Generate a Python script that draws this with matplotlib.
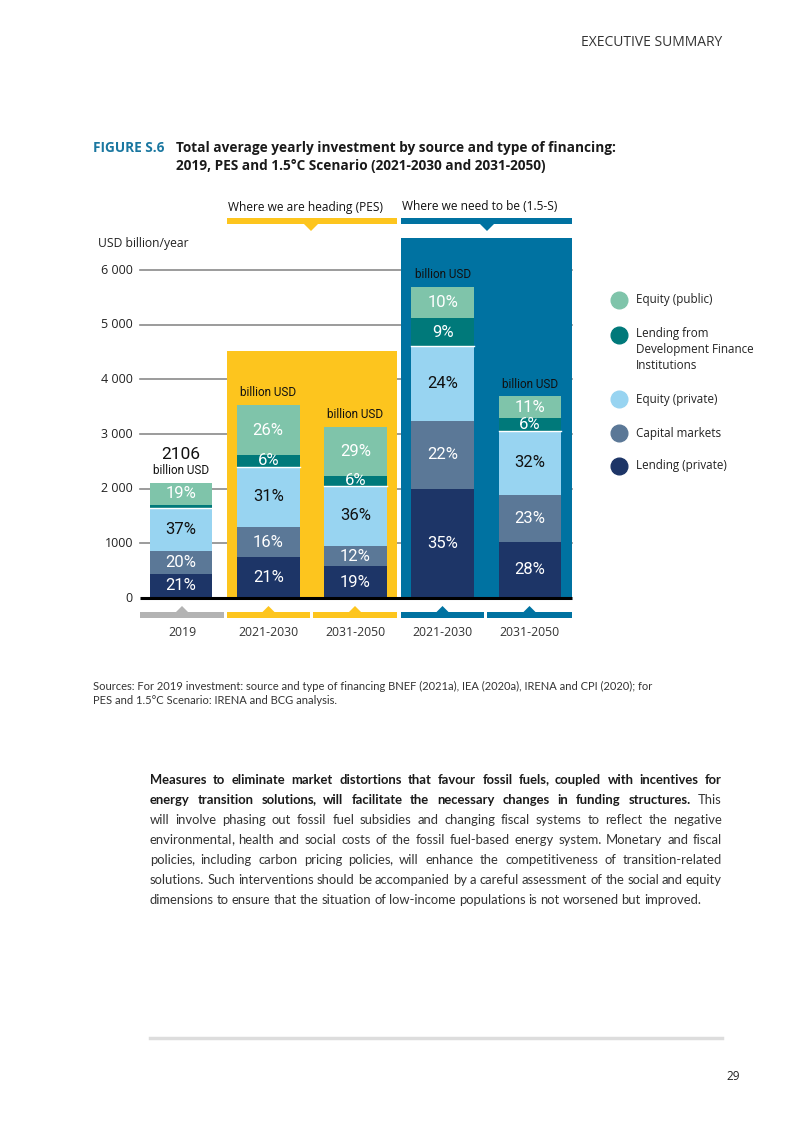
import numpy as np
import matplotlib.pyplot as plt
from matplotlib.patches import Rectangle, Polygon

W, H = 803, 1134

# ---- data ----
periods = ["2019", "2021-2030", "2031-2050", "2021-2030", "2031-2050"]
totals = [2106, 3530, 3130, 5690, 3690]
lending_private = [21, 21, 19, 35, 28]
capital_markets = [20, 16, 12, 22, 23]
equity_private = [37, 31, 36, 24, 32]
lending_dfi = [3, 6, 6, 9, 6]
equity_public = [19, 26, 29, 10, 11]
show_pct = [[1, 1, 1, 0, 1], [1, 1, 1, 1, 1], [1, 1, 1, 1, 1], [1, 1, 1, 1, 1], [1, 1, 1, 1, 1]]

source_names = ["Equity (public)", "Lending from\nDevelopment Finance\nInstitutions",
                "Equity (private)", "Capital markets", "Lending (private)"]
yticks = [0, 1000, 2000, 3000, 4000, 5000, 6000]
ytick_labels = ["0", "1000", "2 000", "3 000", "4 000", "5 000", "6 000"]

c_eq_pub = "#7fc4aa"
c_dfi = "#00797a"
c_eq_priv = "#98d4f1"
c_cap = "#5b7897"
c_lend = "#1d3567"
c_yellow = "#fdc51e"
c_blue = "#0072a1"
c_grey = "#b3b3b3"

seg_colors = [c_lend, c_cap, c_eq_priv, c_dfi, c_eq_pub]
txt_colors = ["white", "white", "#111111", "white", "white"]

FONT = ["Open Sans", "DejaVu Sans"]
NARROW = ["Roboto", "DejaVu Sans"]
BODY = "Lato"
plt.rcParams['font.family'] = FONT

fig = plt.figure(figsize=(W / 100, H / 100), dpi=100)
fig.patch.set_facecolor("white")


def fp(x, y):
    return x / W, 1 - y / H


def ftext(x, y, s, **kw):
    fx, fy = fp(x, y)
    return fig.text(fx, fy, s, **kw)


# axes placed so data maps onto the page pixels
PX0, PY0 = 181.0, 598.0
SX, SY = 87.25, 328.0 / 6000
ax_l, ax_r, ax_t, ax_b = 90, 780, 200, 650
ax = fig.add_axes([ax_l / W, 1 - ax_b / H, (ax_r - ax_l) / W, (ax_b - ax_t) / H])
ax.set_xlim((ax_l - PX0) / SX, (ax_r - PX0) / SX)
ax.set_ylim((PY0 - ax_b) / SY, (PY0 - ax_t) / SY)
ax.axis("off")


def dx(px):
    return (px - PX0) / SX


def dy(py):
    return (PY0 - py) / SY


# grid lines
for t, lab in zip(yticks, ytick_labels):
    if t > 0:
        ax.plot([dx(140), dx(572)], [t, t], color="#8a8a8a", lw=1.2, zorder=1)
    ax.text(dx(133), t, lab, ha="right", va="center", fontsize=9, color="#222222")
ax.text(dx(98), dy(243), "USD billion/year", ha="left", va="center", fontsize=8.7, color="#222222")

# scenario panels
ax.add_patch(Rectangle((dx(227), 0), dx(397) - dx(227), 4520, color=c_yellow, zorder=2, lw=0))
ax.add_patch(Rectangle((dx(401), 0), dx(572) - dx(401), 6580, color=c_blue, zorder=2, lw=0))

# stacked bars
shares = np.array([lending_private, capital_markets, equity_private, lending_dfi, equity_public], float)
x = np.arange(len(periods))
bottom = np.zeros(len(periods))
for k in range(5):
    h = shares[k] / shares.sum(axis=0) * np.array(totals)
    ax.bar(x, h, bottom=bottom, width=0.722, color=seg_colors[k], zorder=3, linewidth=0)
    if k == 3:
        for i in range(len(periods)):
            ax.plot([x[i] - 0.361, x[i] + 0.361], [bottom[i], bottom[i]], color="white", lw=1, zorder=4)
    for i in range(len(periods)):
        if show_pct[i][k]:
            ax.text(x[i], bottom[i] + h[i] / 2, f"{int(shares[k][i])}%", ha="center", va="center",
                    fontsize=12, color=txt_colors[k], family=NARROW, fontstretch="condensed",
                    zorder=5)
    bottom += h

for i in range(len(periods)):
    ax.text(x[i], totals[i] + 220, "billion USD", ha="center", va="center", fontsize=8.5,
            family=NARROW, fontstretch="condensed", color="#111111", zorder=5)
ax.text(x[0], totals[0] + 510, f"{totals[0]}", ha="center", va="center", fontsize=12.5,
        family=NARROW, fontstretch="condensed", color="#111111", zorder=5)

ax.plot([dx(140), dx(572)], [0, 0], color="black", lw=2.2, zorder=6, solid_capstyle="butt")

# bottom category bands
bands = [(140, 224, c_grey), (227, 310, c_yellow), (313, 397, c_yellow),
         (401, 484, c_blue), (487, 572, c_blue)]
for i, (a, b, c) in enumerate(bands):
    ax.add_patch(Rectangle((dx(a), dy(618)), dx(b) - dx(a), dy(612) - dy(618), color=c, lw=0))
    cx = (a + b) / 2
    ax.add_patch(Polygon([(dx(cx - 6), dy(612)), (dx(cx), dy(606)), (dx(cx + 6), dy(612))],
                         color=c, lw=0))
    ax.text(dx(cx), dy(633), periods[i], ha="center", va="center", fontsize=8.8, color="#333333")

# top scenario headers
tops = [(227, 397, 311, c_yellow, "Where we are heading (PES)"),
        (401, 572, 487, c_blue, "Where we need to be (1.5-S)")]
for a, b, cx, c, s in tops:
    ax.add_patch(Rectangle((dx(a), dy(224)), dx(b) - dx(a), dy(218) - dy(224), color=c, lw=0))
    ax.add_patch(Polygon([(dx(cx - 7), dy(224)), (dx(cx), dy(231)), (dx(cx + 7), dy(224))],
                         color=c, lw=0))
    ax.text(dx(a + 1), dy(207), s, ha="left", va="center", fontsize=8.6, color="#111111")

# legend
leg_colors = [c_eq_pub, c_dfi, c_eq_priv, c_cap, c_lend]
leg_y = [300, 335, 399, 433, 466]
for c, yy, name in zip(leg_colors, leg_y, source_names):
    ax.plot([dx(619)], [dy(yy)], marker="o", ms=12, color=c, clip_on=False)
    ax.text(dx(636), dy(yy - 7.5) if "\n" in name else dy(yy), name, ha="left",
            va="top" if "\n" in name else "center",
            fontsize=8.4, color="#222222", linespacing=1.28)

# ---- page texts ----
ftext(722, 42, "EXECUTIVE SUMMARY", ha="right", va="center", fontsize=10, color="#333333")
ftext(93, 148, "FIGURE S.6", ha="left", va="center", fontsize=9.8, fontweight="bold", color="#1a77a0")
ftext(176, 148, "Total average yearly investment by source and type of financing:",
      ha="left", va="center", fontsize=9.8, fontweight="bold", color="#1a1a1a")
ftext(176, 166, "2019, PES and 1.5°C Scenario (2021-2030 and 2031-2050)",
      ha="left", va="center", fontsize=9.8, fontweight="bold", color="#1a1a1a")
ftext(93, 686, "Sources: For 2019 investment: source and type of financing BNEF (2021a), IEA (2020a), "
      "IRENA and CPI (2020); for", ha="left", va="center", fontsize=8, family=BODY, color="#333333")
ftext(93, 700, "PES and 1.5°C Scenario: IRENA and BCG analysis.", ha="left", va="center",
      fontsize=8, family=BODY, color="#333333")

body = [
    [("Measures to eliminate market distortions that favour fossil fuels, coupled with incentives for", True)],
    [("energy transition solutions, will facilitate the necessary changes in funding structures.", True),
     ("This", False)],
    [("will involve phasing out fossil fuel subsidies and changing fiscal systems to reflect the negative", False)],
    [("environmental, health and social costs of the fossil fuel-based energy system. Monetary and fiscal", False)],
    [("policies, including carbon pricing policies, will enhance the competitiveness of transition-related", False)],
    [("solutions. Such interventions should be accompanied by a careful assessment of the social and equity", False)],
    [("dimensions to ensure that the situation of low-income populations is not worsened but improved.", False)],
]

# justified paragraph: place word by word (commas drawn separately so the
# baseline of the word is not disturbed)
renderer = fig.canvas.get_renderer()
x0, x1 = 150, 722
COMMA_SHIFT = -1.5
for li, line in enumerate(body):
    yy = 784 + 20 * li
    words = []
    for chunk, bold in line:
        for w in chunk.split(" "):
            kw = dict(ha="left", va="baseline", fontsize=9.4, family=BODY,
                      fontweight="bold" if bold else "normal",
                      color="#1a1a1a" if bold else "#333333")
            if w.endswith(","):
                parts = [ftext(0, yy, w[:-1], **kw), ftext(0, yy, ",", **kw)]
            else:
                parts = [ftext(0, yy, w, **kw)]
            words.append(parts)
    widths = [[p.get_window_extent(renderer).width for p in parts] for parts in words]
    total = sum(sum(ws) + COMMA_SHIFT * (len(ws) - 1) for ws in widths)
    if li < len(body) - 1:
        gap = (x1 - x0 - total) / (len(words) - 1)
    else:
        gap = 3.0
    cur = x0
    for parts, ws in zip(words, widths):
        for j, (p, wd) in enumerate(zip(parts, ws)):
            shift = COMMA_SHIFT if j == 1 else 0
            p.set_position(fp(cur + shift, yy))
            cur += wd + shift
        cur += gap

fig.add_artist(plt.Line2D([150 / W, 722 / W], [1 - 1038 / H] * 2, color="#dddddd", lw=2.5))
ftext(740, 1076, "29", ha="right", va="center", fontsize=8.5, color="#222222")

fig.savefig("out.png", dpi=100)
